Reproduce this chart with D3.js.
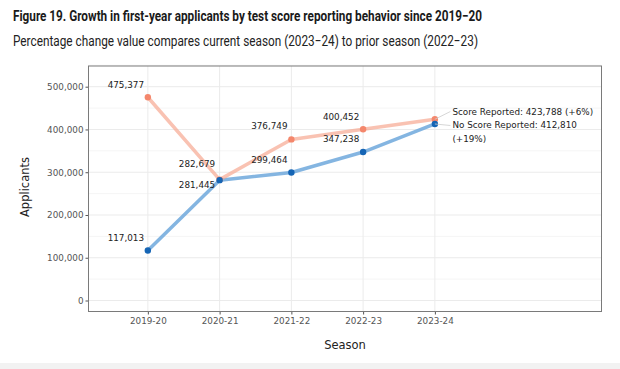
<!DOCTYPE html>
<html><head><meta charset="utf-8">
<script src="https://cdn.jsdelivr.net/npm/d3@7"></script>
<style>
html,body{margin:0;padding:0;background:#fff;}
svg{display:block;}
</style></head>
<body>
<script>
const seasons = ["2019-20","2020-21","2021-22","2022-23","2023-24"];
const scoreReported = [475377, 282679, 376749, 400452, 423788];
const noScoreReported = [117013, 281445, 299464, 347238, 412810];
const yTicks = [0, 100000, 200000, 300000, 400000, 500000];
const yMinor = [50000, 150000, 250000, 350000, 450000, 550000];
const titleText = "Figure 19. Growth in first-year applicants by test score reporting behavior since 2019\u221220";
const subtitleText = "Percentage change value compares current season (2023\u221224) to prior season (2022\u221223)";
const endLabels = ["Score Reported: 423,788 (+6%)", "No Score Reported: 412,810", "(+19%)"];

const W = 620, H = 369;
const svg = d3.select("body").append("svg").attr("width", W).attr("height", H);

svg.append("rect").attr("x",0).attr("y",363).attr("width",W).attr("height",H-363).attr("fill","#f2f2f2");

svg.append("text").attr("x",13).attr("y",21).attr("font-family","Roboto").attr("font-weight","bold")
  .attr("font-size",14.5).attr("fill","#1a1a1a").attr("textLength",469).attr("lengthAdjust","spacingAndGlyphs").text(titleText);
svg.append("text").attr("x",13).attr("y",46).attr("font-family","Roboto")
  .attr("font-size",15).attr("fill","#222").attr("textLength",465).attr("lengthAdjust","spacingAndGlyphs").text(subtitleText);

const L = 88.5, R = 601.5, T = 66, B = 311.5;
const idx = seasons.map((d,i)=>i);
const x = d3.scaleLinear().domain([-0.827, 6.322]).range([L, R]);
const y = d3.scaleLinear().domain([-25700, 548400]).range([B, T]);

const g = svg.append("g");
// minor grid
g.selectAll(".minor").data(yMinor).join("line")
  .attr("x1",L).attr("x2",R).attr("y1",d=>y(d)).attr("y2",d=>y(d))
  .attr("stroke","#f3f3f3").attr("stroke-width",0.8);
g.selectAll(".major").data(yTicks).join("line")
  .attr("x1",L).attr("x2",R).attr("y1",d=>y(d)).attr("y2",d=>y(d))
  .attr("stroke","#ebebeb").attr("stroke-width",1);
g.selectAll(".vgrid").data(idx).join("line")
  .attr("x1",d=>x(d)).attr("x2",d=>x(d)).attr("y1",T).attr("y2",B)
  .attr("stroke","#ebebeb").attr("stroke-width",1);

// axes
const yAxis = d3.axisLeft(y).tickValues(yTicks).tickFormat(d3.format(",")).tickSize(3).tickPadding(2);
const ya = svg.append("g").attr("transform",`translate(${L},0)`).call(yAxis);
const xAxis = d3.axisBottom(x).tickValues(idx).tickFormat(i=>seasons[i]).tickSize(3).tickPadding(3);
const xa = svg.append("g").attr("transform",`translate(0,${B})`).call(xAxis);
[ya,xa].forEach(a=>{
  a.select(".domain").remove();
  a.selectAll(".tick line").attr("stroke","#555");
  a.selectAll(".tick text").attr("fill","#555").attr("font-family","DejaVu Sans").attr("font-size",8.8);
});

svg.append("rect").attr("x",L).attr("y",T).attr("width",R-L).attr("height",B-T)
  .attr("fill","none").attr("stroke","#7a7a7a").attr("stroke-width",1);

const line = d3.line().x((d,i)=>x(i)).y(d=>y(d));
svg.append("path").datum(noScoreReported).attr("d",line).attr("fill","none")
  .attr("stroke","#6fa8dc").attr("stroke-opacity",0.85).attr("stroke-width",3.5).attr("stroke-linejoin","round");
svg.append("path").datum(scoreReported).attr("d",line).attr("fill","none")
  .attr("stroke","#f7a891").attr("stroke-opacity",0.7).attr("stroke-width",3.5).attr("stroke-linejoin","round");

svg.selectAll(".ps").data(scoreReported).join("circle")
  .attr("cx",(d,i)=>x(i)).attr("cy",d=>y(d)).attr("r",3.2).attr("fill","#f4876c");
svg.selectAll(".pn").data(noScoreReported).join("circle")
  .attr("cx",(d,i)=>x(i)).attr("cy",d=>y(d)).attr("r",3.2).attr("fill","#1565b5");

const fmt = d3.format(",");
const lab = svg.append("g").attr("font-family","DejaVu Sans").attr("font-size",8.8).attr("fill","#222").attr("text-anchor","middle");
// score reported labels (first four)
const sOff = [[-22,-12],[-22.6,-15.5],[-22,-13],[-22,-12.5]];
scoreReported.slice(0,4).forEach((v,i)=>{
  lab.append("text").attr("x",x(i)+sOff[i][0]).attr("y",y(v)+sOff[i][1]).attr("dy","0.35em").text(fmt(v));
});
const nOff = [[-22,-13],[-22.6,5],[-22,-13],[-22,-13]];
noScoreReported.slice(0,4).forEach((v,i)=>{
  lab.append("text").attr("x",x(i)+nOff[i][0]).attr("y",y(v)+nOff[i][1]).attr("dy","0.35em").text(fmt(v));
});

// end labels with leader lines
const xe = x(4);
const lx = xe + 17.5;
const ys1 = y(scoreReported[4]), yn1 = y(noScoreReported[4]);
svg.append("line").attr("x1",xe).attr("y1",ys1).attr("x2",lx-2).attr("y2",111.5).attr("stroke","#ccc").attr("stroke-width",0.8);
svg.append("line").attr("x1",xe).attr("y1",yn1).attr("x2",lx-2).attr("y2",125.5).attr("stroke","#ccc").attr("stroke-width",0.8);
const el = svg.append("g").attr("font-family","DejaVu Sans").attr("font-size",8.8).attr("fill","#222");
el.append("text").attr("x",lx).attr("y",111.5).attr("dy","0.35em").text(endLabels[0]);
el.append("text").attr("x",lx).attr("y",125).attr("dy","0.35em").text(endLabels[1]);
el.append("text").attr("x",lx).attr("y",138.5).attr("dy","0.35em").text(endLabels[2]);

// axis titles
svg.append("text").attr("transform","translate(29,187) rotate(-90)").attr("text-anchor","middle")
  .attr("font-family","DejaVu Sans").attr("font-size",11.5).attr("fill","#222").text("Applicants");
svg.append("text").attr("x",345).attr("y",349).attr("text-anchor","middle")
  .attr("font-family","DejaVu Sans").attr("font-size",11.5).attr("fill","#222").text("Season");
</script>
</body></html>
